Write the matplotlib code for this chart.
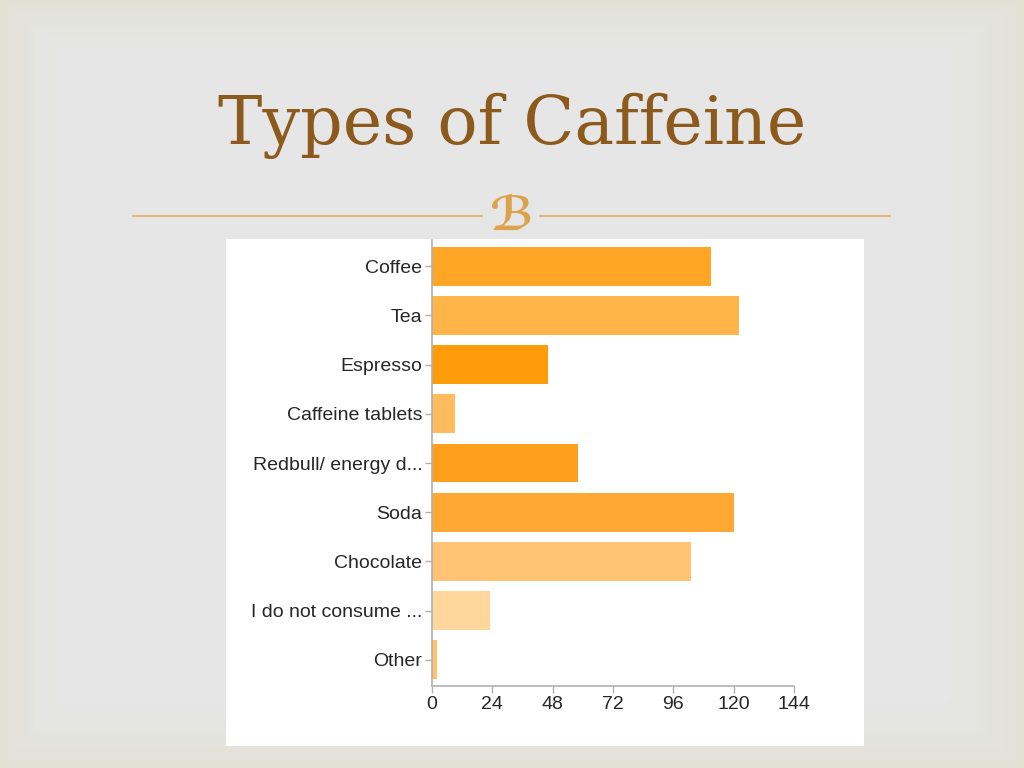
import numpy as np
import matplotlib
matplotlib.use("Agg")
import matplotlib.pyplot as plt

categories = ["Coffee", "Tea", "Espresso", "Caffeine tablets", "Redbull/ energy d...",
              "Soda", "Chocolate", "I do not consume ...", "Other"]
counts = [111, 122, 46, 9, 58, 120, 103, 23, 2]
bar_colors = ["#FFA626", "#FFB547", "#FF9C0A", "#FFBB5E", "#FFA01C",
              "#FFA833", "#FFC374", "#FFD69C", "#FFC266"]
xticks = [0, 24, 48, 72, 96, 120, 144]
title = "Types of Caffeine"

W, H = 1024, 768
fig = plt.figure(figsize=(W / 100, H / 100), dpi=100)

# slide background with soft beige border
bg = fig.add_axes([0, 0, 1, 1], zorder=-5)
bg.set_axis_off()
yy, xx = np.mgrid[0:H, 0:W]
d = np.minimum.reduce([xx * 1.0, (W - 1 - xx) * 0.8, yy * 1.2, (H - 1 - yy) * 0.9]).astype(float)
t = np.clip(d / 60.0, 0, 1) ** 0.7
edge = np.array([225, 225, 212]) / 255.0
center = np.array([230, 230, 230]) / 255.0
img = edge[None, None, :] * (1 - t[..., None]) + center[None, None, :] * t[..., None]
bg.imshow(img, extent=[0, 1, 0, 1], aspect="auto", zorder=0)
bg.set_xlim(0, 1)
bg.set_ylim(0, 1)

# title
bg.text(0.5, 1 - 126 / H, title, ha="center", va="center", fontsize=48,
        family="DejaVu Serif", color="#8C5A1C", zorder=2)
# decorative rule
line_y = 1 - 216 / H
bg.plot([133 / W, 482 / W], [line_y, line_y], color="#E2AC5C", lw=1.2, zorder=2)
bg.plot([540 / W, 890 / W], [line_y, line_y], color="#E2AC5C", lw=1.2, zorder=2)
bg.text(512 / W, 1 - 217 / H, "\u212C", ha="center", va="center", fontsize=34,
        family=["DejaVu Serif", "DejaVu Sans"], color="#DDA24C", weight="bold", zorder=2)

# white panel
bg.add_patch(plt.Rectangle((226 / W, 1 - 746 / H), (864 - 226) / W, (746 - 239) / H,
                           transform=bg.transAxes, facecolor="white", edgecolor="none", zorder=1))

# bar chart
ax = fig.add_axes([432 / W, 1 - 686 / H, (794 - 432) / W, (686 - 240) / H], zorder=2)
ax.set_facecolor("none")
ypos = np.arange(len(categories))
ax.barh(ypos, counts, height=0.79, color=bar_colors, edgecolor="none")
ax.set_xlim(0, 144)
ax.set_ylim(8.53, -0.53)
ax.set_xticks(xticks)
ax.set_xticklabels([str(v) for v in xticks])
ax.set_yticks(ypos)
ax.set_yticklabels(categories)
for s in ["top", "right"]:
    ax.spines[s].set_visible(False)
for s in ["left", "bottom"]:
    ax.spines[s].set_color("#B0B0B0")
    ax.spines[s].set_linewidth(1.2)
ax.tick_params(axis="both", colors="#B0B0B0", length=5, width=1, labelcolor="#262626",
               labelsize=14, pad=2)
for lab in ax.get_xticklabels() + ax.get_yticklabels():
    lab.set_family("Liberation Sans")

fig.savefig("out.png", dpi=100)
